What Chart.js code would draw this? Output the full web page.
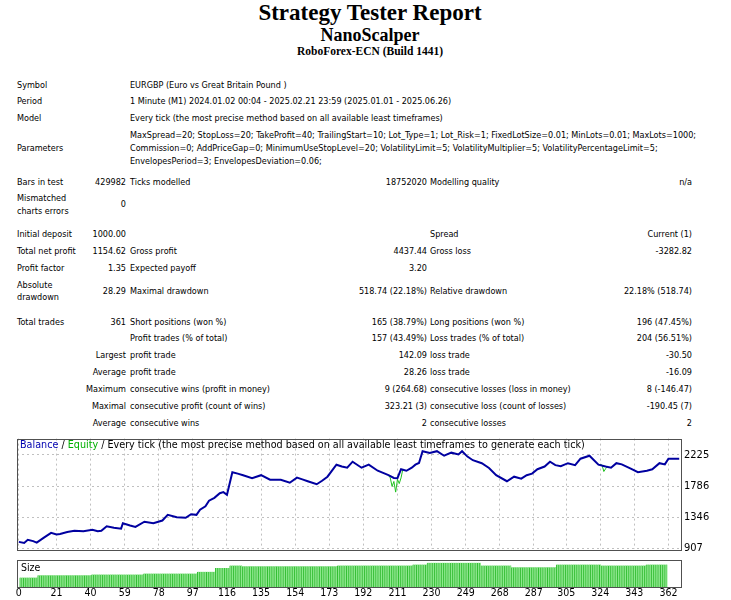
<!DOCTYPE html>
<html>
<head>
<meta charset="utf-8">
<script src="https://cdn.jsdelivr.net/npm/chart.js@4.4.1/dist/chart.umd.min.js"></script>
<style>
  body{margin:0;background:#fff;width:731px;height:600px;position:relative;overflow:hidden;font-family:'DejaVu Sans Condensed','Liberation Sans',sans-serif;font-size:9px;color:#000}
  .t{position:absolute;white-space:nowrap;line-height:12px}
  .h{position:absolute;left:0;width:740px;text-align:center;font-family:'Liberation Serif',serif;font-weight:bold;white-space:nowrap}
  canvas{position:absolute;left:0}
  #cap{position:absolute;left:20px;top:438px;font-size:10.7px;white-space:nowrap;color:#000;font-family:'DejaVu Sans Condensed',sans-serif}
</style>
</head>
<body>
<div class="h" style="top:0;font-size:23px">Strategy Tester Report</div>
<div class="h" style="top:25px;font-size:18px">NanoScalper</div>
<div class="h" style="top:45px;font-size:11.5px">RoboForex-ECN (Build 1441)</div>
<div id="report"></div>

<canvas id="chart-balance" width="731" height="130" style="top:429px"></canvas>
<canvas id="chart-size" width="731" height="42" style="top:558px"></canvas>
<div id="cap"><span style="color:#0000b0">Balance</span> / <span style="color:#00b000">Equity</span> / Every tick (the most precise method based on all available least timeframes to generate each tick)</div>
<div class="t" style="left:21px;top:561px;font-size:10.5px">Size</div>

<script>
// Report rows: [y, x, text, align]  (align 'r' = right edge at x)
const reportRows = [
  [79,17,'Symbol'],[79,130,'EURGBP (Euro vs Great Britain Pound )'],
  [95,17,'Period'],[95,130,'1 Minute (M1) 2024.01.02 00:04 - 2025.02.21 23:59 (2025.01.01 - 2025.06.26)'],
  [112,17,'Model'],[112,130,'Every tick (the most precise method based on all available least timeframes)'],
  [142,17,'Parameters'],
  [129,130,'MaxSpread=20; StopLoss=20; TakeProfit=40; TrailingStart=10; Lot_Type=1; Lot_Risk=1; FixedLotSize=0.01; MinLots=0.01; MaxLots=1000;'],
  [142,130,'Commission=0; AddPriceGap=0; MinimumUseStopLevel=20; VolatilityLimit=5; VolatilityMultiplier=5; VolatilityPercentageLimit=5;'],
  [155,130,'EnvelopesPeriod=3; EnvelopesDeviation=0.06;'],
  [176,17,'Bars in test'],[176,126,'429982','r'],[176,130,'Ticks modelled'],[176,427,'18752020','r'],[176,430,'Modelling quality'],[176,692,'n/a','r'],
  [192,17,'Mismatched'],[205,17,'charts errors'],[198,126,'0','r'],
  [228,17,'Initial deposit'],[228,126,'1000.00','r'],[228,430,'Spread'],[228,692,'Current (1)','r'],
  [245,17,'Total net profit'],[245,126,'1154.62','r'],[245,130,'Gross profit'],[245,427,'4437.44','r'],[245,430,'Gross loss'],[245,692,'-3282.82','r'],
  [262,17,'Profit factor'],[262,126,'1.35','r'],[262,130,'Expected payoff'],[262,427,'3.20','r'],
  [279,17,'Absolute'],[291,17,'drawdown'],[285,126,'28.29','r'],[285,130,'Maximal drawdown'],[285,427,'518.74 (22.18%)','r'],[285,430,'Relative drawdown'],[285,692,'22.18% (518.74)','r'],
  [316,17,'Total trades'],[316,126,'361','r'],[316,130,'Short positions (won %)'],[316,427,'165 (38.79%)','r'],[316,430,'Long positions (won %)'],[316,692,'196 (47.45%)','r'],
  [332,130,'Profit trades (% of total)'],[332,427,'157 (43.49%)','r'],[332,430,'Loss trades (% of total)'],[332,692,'204 (56.51%)','r'],
  [349,126,'Largest','r'],[349,130,'profit trade'],[349,427,'142.09','r'],[349,430,'loss trade'],[349,692,'-30.50','r'],
  [366,126,'Average','r'],[366,130,'profit trade'],[366,427,'28.26','r'],[366,430,'loss trade'],[366,692,'-16.09','r'],
  [383,126,'Maximum','r'],[383,130,'consecutive wins (profit in money)'],[383,427,'9 (264.68)','r'],[383,430,'consecutive losses (loss in money)'],[383,692,'8 (-146.47)','r'],
  [400,126,'Maximal','r'],[400,130,'consecutive profit (count of wins)'],[400,427,'323.21 (3)','r'],[400,430,'consecutive loss (count of losses)'],[400,692,'-190.45 (7)','r'],
  [417,126,'Average','r'],[417,130,'consecutive wins'],[417,427,'2','r'],[417,430,'consecutive losses'],[417,692,'2','r']
];

// Balance curve (trade #, balance)
const balTrades = [0,3,5,8,10,14,18,21,23,27,31,36,41,44,46,49,53,57,58,62,65,70,75,80,83,88,93,96,99,101,104,106,109,112,114,116,119,122,125,130,135,140,146,151,155,158,161,166,169,172,177,180,183,186,191,195,200,203,206,209,211,213,216,219,221,223,225,229,233,237,241,245,247,250,253,258,262,266,272,276,280,283,286,289,293,296,299,302,306,310,313,318,323,327,330,333,336,341,345,350,353,357,360,362,368];
const balValues = [1000,985,1030,1010,990,1060,1127,1105,1110,1140,1155,1150,1170,1150,1155,1220,1200,1186,1262,1230,1211,1283,1262,1300,1380,1346,1338,1389,1380,1452,1500,1579,1620,1684,1700,1663,1980,1960,1938,1896,1938,1874,1874,1832,1904,1880,1853,1811,1860,1917,2086,2060,2043,2128,2043,2086,2001,1970,1938,1900,1896,2022,2000,2043,2086,2110,2276,2250,2276,2212,2255,2230,2276,2200,2149,2107,2040,1938,1853,1917,1890,1938,1960,2022,2060,2128,2080,2064,2107,2080,2170,2212,2086,2060,2043,2107,2090,2030,1980,2000,2022,2107,2090,2170,2170];

// Equity dips (null = gap where equity sits on the balance line)
const eqTrades = [206,207,208,209,210,211,212,213,214,220,324,325,326,327,328];
const eqValues = [1938,1900,1780,1850,1700,1880,1820,1900,2022,null,2090,2080,1990,2030,2060];

// Lot size steps: from trade # onward
const sizeFrom = [0,11,41,70,100,110,118,125,178,220,228,258,275,300,325,350];
const sizeLots = [0.105,0.13,0.14,0.15,0.17,0.21,0.24,0.23,0.24,0.25,0.27,0.24,0.22,0.25,0.24,0.25];
const totalTrades = 361;

const xTicks = [0,21,40,59,78,97,116,135,154,173,192,211,230,249,268,287,305,324,343,362];
const yTicks = [907,1346,1786,2225];

const axisFont = { family:'DejaVu Sans Condensed', size:11 };

// report text
const rep = document.getElementById('report');
reportRows.forEach(([y,x,txt,al]) => {
  const d = document.createElement('div');
  d.className = 't';
  d.textContent = txt;
  d.style.top = y + 'px';
  if(al === 'r') d.style.right = (731 - x) + 'px';
  else d.style.left = x + 'px';
  rep.appendChild(d);
});

const frame = {
  id:'frame',
  afterDraw(c){
    const a = c.chartArea, g = c.ctx;
    g.save(); g.strokeStyle = '#505050'; g.lineWidth = 1;
    g.strokeRect(Math.round(a.left)+0.5, Math.round(a.top)+0.5, Math.round(a.right-a.left), Math.round(a.bottom-a.top));
    g.restore();
  }
};

const xMin = -1, xMax = 369;

new Chart(document.getElementById('chart-balance'), {
  type:'line',
  data:{
    datasets:[
      { label:'Balance', data: balTrades.map((t,i)=>({x:t,y:balValues[i]})), borderColor:'#0000a0', borderWidth:2, pointRadius:0, tension:0, order:0 },
      { label:'Equity', data: eqTrades.map((t,i)=>({x:t,y:eqValues[i]})), borderColor:'#20c020', borderWidth:1, pointRadius:0, tension:0, spanGaps:false, order:1 }
    ]
  },
  options:{
    responsive:false, animation:false,
    layout:{ padding:{ left:17, top:7, bottom:1, right:0 } },
    plugins:{ legend:{display:false}, tooltip:{enabled:false} },
    scales:{
      x:{ type:'linear', min:xMin, max:xMax,
          afterBuildTicks: s => { s.ticks = xTicks.map(v=>({value:v})); },
          ticks:{ display:false }, border:{ display:false, dash:[2,3] },
          grid:{ color:'#c0c0c0', drawTicks:false } },
      y:{ position:'right', min:894, max:2453,
          afterBuildTicks: s => { s.ticks = yTicks.map(v=>({value:v})); },
          afterFit: s => { s.width = 50; },
          ticks:{ color:'#000', font:axisFont, padding:3, callback: v => String(v) },
          border:{ display:false, dash:[2,3] },
          grid:{ color:'#c0c0c0', drawTicks:false } }
    }
  },
  plugins:[frame]
});

const sizeData = [];
for(let t=1; t<=totalTrades; t++){
  let lot = sizeLots[0];
  sizeFrom.forEach((f,i) => { if(t >= f) lot = sizeLots[i]; });
  sizeData.push({x:t, y:lot});
}

new Chart(document.getElementById('chart-size'), {
  type:'bar',
  data:{ datasets:[{ data:sizeData, backgroundColor:'#90ea90', borderColor:'#28b828', borderWidth:{left:1,right:0,top:0,bottom:0}, barPercentage:1, categoryPercentage:1, borderSkipped:false }] },
  options:{
    responsive:false, animation:false,
    layout:{ padding:{ left:17, top:2, bottom:0, right:0 } },
    plugins:{ legend:{display:false}, tooltip:{enabled:false} },
    scales:{
      x:{ type:'linear', min:xMin, max:xMax, offset:false,
          afterBuildTicks: s => { s.ticks = xTicks.map(v=>({value:v})); },
          afterFit: s => { s.height = 13; },
          ticks:{ color:'#000', font:{ family:'DejaVu Sans Condensed', size:10.5, lineHeight:1 }, padding:1, maxRotation:0, autoSkip:false },
          border:{display:false}, grid:{ display:false, drawTicks:false, tickLength:0 } },
      y:{ position:'right', min:0, max:0.30,
          afterFit: s => { s.width = 50; },
          ticks:{ display:false }, border:{display:false}, grid:{ display:false } }
    }
  },
  plugins:[frame]
});
</script>
</body>
</html>
